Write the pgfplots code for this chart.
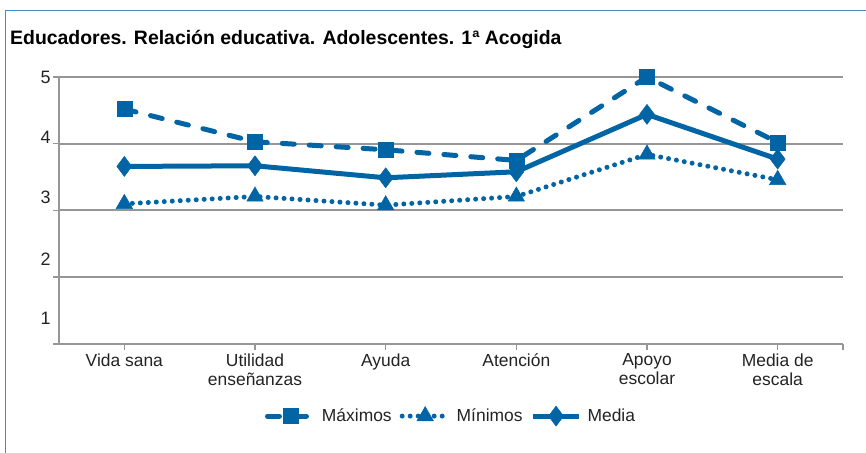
\documentclass[border=0pt]{standalone}
\usepackage{pgfplots}
\pgfplotsset{compat=1.18}
\usepackage{fontspec}
\setmainfont{Liberation Sans}
\definecolor{cblue}{RGB}{0,100,165}
\definecolor{cgrid}{RGB}{150,150,150}
\definecolor{cframe}{RGB}{70,140,200}
\definecolor{ctext}{RGB}{35,35,35}
\begin{document}
\begin{tikzpicture}[x=1bp,y=1bp]
\path[use as bounding box] (0bp,0bp) rectangle (866bp,453bp);
\draw[cframe, line width=1.5bp] (5.5bp,-5bp) -- (5.5bp,442.5bp) -- (870bp,442.5bp);
\node[anchor=base west, inner sep=0pt, font=\fontsize{19.5}{22}\selectfont\bfseries] at (10bp,408bp) {Educadores. Relación educativa. Adolescentes. 1ª Acogida};
\begin{axis}[
  at={(59bp,109bp)}, anchor=south west, scale only axis,
  width=784bp, height=267bp,
  xmin=-0.5, xmax=5.5, ymin=1, ymax=5,
  clip=false,
  axis x line=bottom, axis y line=left,
  axis line style={cgrid, line width=2bp, -},
  xtick={0,1,2,3,4,5},
  xticklabels={Vida sana, {Utilidad\\enseñanzas}, Ayuda, Atención, {Apoyo\\escolar}, {Media de\\escala}},
  xticklabel style={align=center, text=ctext, font=\fontsize{17.5}{19.5}\selectfont},
  extra x ticks={5.5}, extra x tick labels={},
  ytick={1,2,3,4,5}, yticklabels={},
  ymajorgrids, grid style={cgrid, line width=2bp},
  extra y ticks={1.39,2.27,3.19,4.09,5},
  extra y tick labels={1,2,3,4,5},
  extra y tick style={major tick length=0pt, grid=none,
     yticklabel style={text=ctext, font=\fontsize{18}{20}\selectfont, xshift=-5bp}},
  tick style={cgrid, line width=1.5bp},
  major tick length=6bp, tick align=outside,
  legend columns=3,
  legend style={draw=none, fill=none, at={(0.5,-0.27)}, anchor=center,
     font=\fontsize{17.5}{19.5}\selectfont, text=ctext,
     /tikz/every even column/.append style={column sep=6bp},
     /tikz/every odd column/.append style={column sep=4bp}},
  legend image code/.code={\draw[mark repeat=2, mark phase=2, #1] plot coordinates {(0bp,0bp) (23bp,0bp) (46bp,0bp)};},
]
\addplot[cblue, line width=5bp, dash pattern=on 12bp off 15bp, line cap=round,
  mark=square*, mark size=7.5bp, mark options={solid, line width=0.5bp}]
  coordinates {(0,4.52) (1,4.03) (2,3.91) (3,3.75) (4,5.0) (5,4.02)};
\addlegendentry{Máximos}
\addplot[cblue, line width=5bp, dash pattern=on 0bp off 8bp, line cap=round,
  mark=triangle*, mark size=9.5bp, mark options={solid, line width=0.5bp}]
  coordinates {(0,3.10) (1,3.21) (2,3.08) (3,3.21) (4,3.84) (5,3.46)};
\addlegendentry{Mínimos}
\addplot[cblue, line width=5bp,
  mark=diamond*, mark size=10bp, mark options={solid, line width=0.5bp}]
  coordinates {(0,3.66) (1,3.67) (2,3.49) (3,3.58) (4,4.44) (5,3.77)};
\addlegendentry{Media}
\end{axis}
\end{tikzpicture}
\end{document}
